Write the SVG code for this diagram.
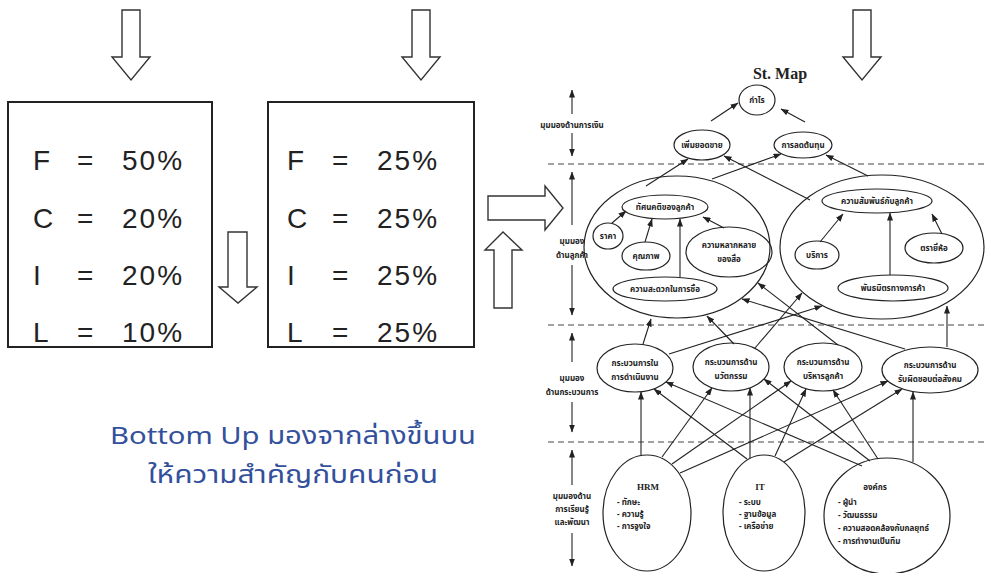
<svg xmlns="http://www.w3.org/2000/svg" width="987" height="573" viewBox="0 0 987 573">
<defs>
<marker id="ah" markerUnits="userSpaceOnUse" markerWidth="8" markerHeight="6" refX="7.5" refY="3" orient="auto">
<path d="M0,0 L8,3 L0,6 z" fill="#222"/>
</marker>
<style>
.blk{fill:#fff;stroke:#333;stroke-width:1.4}
.box{fill:none;stroke:#222;stroke-width:2}
.big{font-family:"Liberation Sans","Noto Sans",sans-serif;font-size:28px;fill:#222;letter-spacing:2px}
.sub{font-family:"Noto Sans Thai","Noto Sans","Liberation Sans",sans-serif;font-size:24px;fill:#33509c;text-anchor:middle}
.el{fill:none;stroke:#222;stroke-width:1.2}
.ar{fill:none;stroke:#222;stroke-width:1.1;marker-end:url(#ah)}
.dash{stroke:#444;stroke-width:1;stroke-dasharray:6 4}
.t{font-family:"Noto Sans Thai","Noto Sans","Liberation Sans",sans-serif;font-size:8px;fill:#222;text-anchor:middle;font-weight:bold}
.tl{font-family:"Noto Sans Thai","Noto Sans","Liberation Sans",sans-serif;font-size:8px;fill:#222;font-weight:bold}
.ser{font-family:"Liberation Serif",serif;font-weight:bold;fill:#222;text-anchor:middle}
</style>
</defs>
<rect width="987" height="573" fill="#fff"/>

<g id="arrows-block">
<path class="blk" d="M122,10 H140 V57 H150 L131,80 L112,57 H122 Z"/>
<path class="blk" d="M412,10 H430 V57 H440 L421,80 L402,57 H412 Z"/>
<path class="blk" d="M853,10 H871 V57 H881 L862,80 L843,57 H853 Z"/>
<path class="blk" d="M228,232 H247 V287 H257 L238,303 L219,287 H228 Z"/>
<path class="blk" d="M488,196 H545 V186 L563,208 L545,230 V220 H488 Z"/>
<path class="blk" d="M494,308 V250 H485 L503,232 L522,250 H512 V308 Z"/>
</g>

<g id="box1">
<rect class="box" x="8" y="102" width="204" height="245"/>
<text class="big" x="33" y="170">F</text><text class="big" x="77" y="170">=</text><text class="big" x="122" y="170">50%</text>
<text class="big" x="33" y="228">C</text><text class="big" x="77" y="228">=</text><text class="big" x="122" y="228">20%</text>
<text class="big" x="33" y="285">I</text><text class="big" x="77" y="285">=</text><text class="big" x="122" y="285">20%</text>
<text class="big" x="33" y="342">L</text><text class="big" x="77" y="342">=</text><text class="big" x="122" y="342">10%</text>
</g>
<g id="box2">
<rect class="box" x="268" y="102" width="206" height="245"/>
<text class="big" x="287" y="170">F</text><text class="big" x="332" y="170">=</text><text class="big" x="377" y="170">25%</text>
<text class="big" x="287" y="228">C</text><text class="big" x="332" y="228">=</text><text class="big" x="377" y="228">25%</text>
<text class="big" x="287" y="285">I</text><text class="big" x="332" y="285">=</text><text class="big" x="377" y="285">25%</text>
<text class="big" x="287" y="342">L</text><text class="big" x="332" y="342">=</text><text class="big" x="377" y="342">25%</text>
</g>
<g id="caption">
<text class="sub" x="293" y="444" textLength="366" lengthAdjust="spacingAndGlyphs">Bottom Up มองจากล่างขึ้นบน</text>
<text class="sub" x="293" y="483" textLength="290" lengthAdjust="spacingAndGlyphs">ให้ความสำคัญกับคนก่อน</text>
</g>

<g id="stmap-frame">
<text class="ser" x="780" y="79" font-size="16">St. Map</text>
<line class="dash" x1="548" y1="164" x2="987" y2="164"/>
<line class="dash" x1="548" y1="325" x2="987" y2="325"/>
<line class="dash" x1="548" y1="442" x2="987" y2="442"/>
</g>
<g id="perspective-labels">
<line class="ar" x1="572" y1="114" x2="572" y2="90"/>
<text class="t" x="572" y="128">มุมมองด้านการเงิน</text>
<line class="ar" x1="572" y1="133" x2="572" y2="156"/>
<line class="ar" x1="572" y1="225" x2="572" y2="172"/>
<text class="t" x="572" y="244">มุมมอง</text>
<text class="t" x="572" y="258">ด้านลูกค้า</text>
<line class="ar" x1="572" y1="265" x2="572" y2="315"/>
<line class="ar" x1="572" y1="362" x2="572" y2="333"/>
<text class="t" x="572" y="381">มุมมอง</text>
<text class="t" x="572" y="395">ด้านกระบวนการ</text>
<line class="ar" x1="572" y1="402" x2="572" y2="432"/>
<line class="ar" x1="572" y1="485" x2="572" y2="450"/>
<text class="t" x="572" y="499">มุมมองด้าน</text>
<text class="t" x="572" y="512">การเรียนรู้</text>
<text class="t" x="572" y="525">และพัฒนา</text>
<line class="ar" x1="572" y1="533" x2="572" y2="566"/>
</g>

<g id="n-profit"><ellipse class="el" cx="757" cy="100" rx="18" ry="15"/><text class="t" x="757" y="103">กำไร</text></g>
<g id="n-sales"><ellipse class="el" cx="702" cy="145" rx="28" ry="15"/><text class="t" x="702" y="148">เพิ่มยอดขาย</text></g>
<g id="n-cost"><ellipse class="el" cx="803" cy="145" rx="29" ry="13"/><text class="t" x="803" y="148">การลดต้นทุน</text></g>

<g id="n-cust-left">
<ellipse class="el" cx="677" cy="247" rx="93" ry="71"/>
<ellipse class="el" cx="665" cy="207" rx="43" ry="12"/><text class="t" x="665" y="210">ทัศนคติของลูกค้า</text>
<ellipse class="el" cx="608" cy="236" rx="15" ry="13"/><text class="t" x="608" y="239">ราคา</text>
<ellipse class="el" cx="646" cy="256" rx="24" ry="14"/><text class="t" x="646" y="259">คุณภาพ</text>
<ellipse class="el" cx="729" cy="252" rx="43" ry="25"/><text class="t" x="729" y="248">ความหลากหลาย</text><text class="t" x="729" y="262">ของสื่อ</text>
<ellipse class="el" cx="665" cy="289" rx="52" ry="12"/><text class="t" x="665" y="292">ความสะดวกในการซื้อ</text>
</g>
<g id="n-cust-right">
<ellipse class="el" cx="882" cy="247" rx="102" ry="72"/>
<ellipse class="el" cx="877" cy="201" rx="55" ry="12"/><text class="t" x="877" y="204">ความสัมพันธ์กับลูกค้า</text>
<ellipse class="el" cx="817" cy="255" rx="22" ry="14"/><text class="t" x="817" y="258">บริการ</text>
<ellipse class="el" cx="934" cy="248" rx="29" ry="15"/><text class="t" x="934" y="251">ตรายี่ห้อ</text>
<ellipse class="el" cx="893" cy="288" rx="55" ry="13"/><text class="t" x="893" y="291">พันธมิตรทางการค้า</text>
</g>

<g id="n-p1"><ellipse class="el" cx="635" cy="368" rx="38" ry="24"/><text class="t" x="635" y="366">กระบวนการใน</text><text class="t" x="635" y="380">การดำเนินงาน</text></g>
<g id="n-p2"><ellipse class="el" cx="731" cy="367" rx="38" ry="24"/><text class="t" x="731" y="365">กระบวนการด้าน</text><text class="t" x="731" y="379">นวัตกรรม</text></g>
<g id="n-p3"><ellipse class="el" cx="823" cy="367" rx="39" ry="24"/><text class="t" x="823" y="365">กระบวนการด้าน</text><text class="t" x="823" y="379">บริหารลูกค้า</text></g>
<g id="n-p4"><ellipse class="el" cx="930" cy="370" rx="48" ry="23"/><text class="t" x="930" y="368">กระบวนการด้าน</text><text class="t" x="930" y="382">รับผิดชอบต่อสังคม</text></g>

<g id="n-hrm"><ellipse class="el" cx="647" cy="513" rx="44" ry="58"/>
<text class="ser" x="648" y="490" font-size="9">HRM</text>
<text class="tl" x="617" y="505">-  ทักษะ</text><text class="tl" x="617" y="517">-  ความรู้</text><text class="tl" x="617" y="529">-  การจูงใจ</text></g>
<g id="n-it"><ellipse class="el" cx="764" cy="513" rx="41" ry="58"/>
<text class="ser" x="760" y="490" font-size="9">IT</text>
<text class="tl" x="739" y="505">-  ระบบ</text><text class="tl" x="739" y="517">-  ฐานข้อมูล</text><text class="tl" x="739" y="529">-  เครือข่าย</text></g>
<g id="n-org"><ellipse class="el" cx="887" cy="516" rx="63" ry="58"/>
<text class="t" x="875" y="490">องค์กร</text>
<text class="tl" x="838" y="505">-  ผู้นำ</text><text class="tl" x="838" y="518">-  วัฒนธรรม</text><text class="tl" x="838" y="531">-  ความสอดคล้องกับกลยุทธ์</text><text class="tl" x="838" y="544">-  การทำงานเป็นทีม</text></g>

<g id="connectors">
<line class="ar" x1="711" y1="121" x2="738" y2="103"/>
<line class="ar" x1="805" y1="122" x2="781" y2="109"/>
<line class="ar" x1="646" y1="186" x2="688" y2="159"/>
<line class="ar" x1="712" y1="179" x2="781" y2="154"/>
<line class="ar" x1="810" y1="200" x2="724" y2="156"/>
<line class="ar" x1="868" y1="176" x2="826" y2="155"/>
<line class="ar" x1="612" y1="223" x2="626" y2="211"/>
<line class="ar" x1="645" y1="242" x2="652" y2="219"/>
<line class="ar" x1="680" y1="277" x2="680" y2="219"/>
<line class="ar" x1="724" y1="228" x2="703" y2="217"/>
<line class="ar" x1="820" y1="242" x2="843" y2="214"/>
<line class="ar" x1="890" y1="275" x2="890" y2="213"/>
<line class="ar" x1="942" y1="234" x2="932" y2="214"/>
<line class="ar" x1="643" y1="344" x2="651" y2="319"/>
<line class="ar" x1="669" y1="354" x2="822" y2="306"/>
<line class="ar" x1="734" y1="344" x2="707" y2="316"/>
<line class="ar" x1="755" y1="348" x2="802" y2="293"/>
<line class="ar" x1="838" y1="345" x2="758" y2="283"/>
<line class="ar" x1="905" y1="349" x2="742" y2="299"/>
<line class="ar" x1="947" y1="347" x2="947" y2="306"/>
<line class="ar" x1="641" y1="455" x2="641" y2="392"/>
<line class="ar" x1="662" y1="457" x2="712" y2="388"/>
<line class="ar" x1="672" y1="464" x2="791" y2="381"/>
<line class="ar" x1="680" y1="473" x2="888" y2="381"/>
<line class="ar" x1="747" y1="459" x2="654" y2="389"/>
<line class="ar" x1="750" y1="458" x2="750" y2="388"/>
<line class="ar" x1="775" y1="456" x2="806" y2="389"/>
<line class="ar" x1="784" y1="462" x2="902" y2="389"/>
<line class="ar" x1="862" y1="466" x2="666" y2="382"/>
<line class="ar" x1="870" y1="461" x2="764" y2="379"/>
<line class="ar" x1="878" y1="459" x2="833" y2="390"/>
<line class="ar" x1="913" y1="462" x2="913" y2="392"/>
</g>
</svg>
